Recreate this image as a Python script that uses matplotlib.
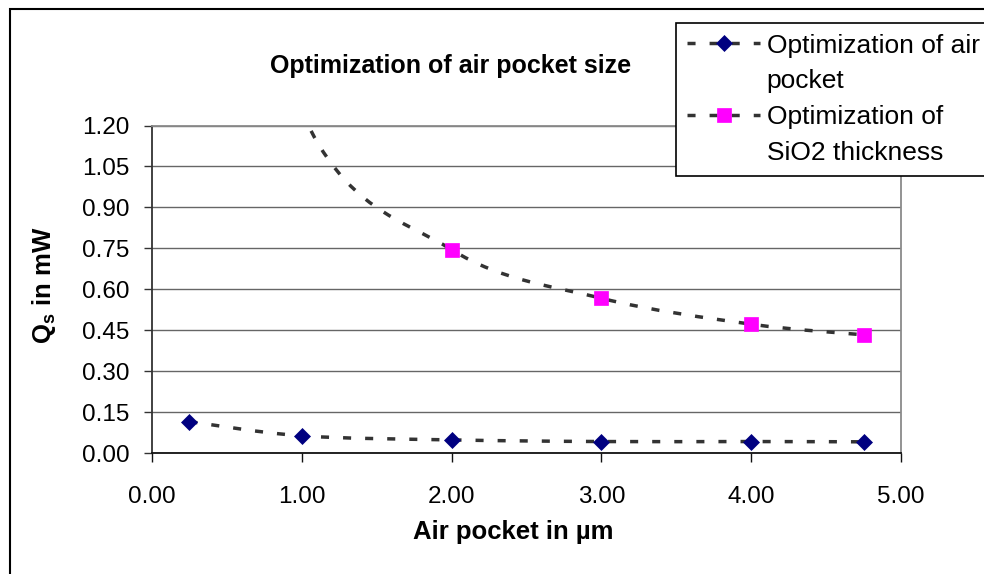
import matplotlib
matplotlib.use('Agg')
import matplotlib.pyplot as plt
import numpy as np
from matplotlib.path import Path
from matplotlib.patches import PathPatch, Rectangle
from matplotlib.lines import Line2D
from matplotlib.ticker import FormatStrFormatter

plt.rcParams['font.family'] = ['Liberation Sans', 'DejaVu Sans']
plt.rcParams['mathtext.fontset'] = 'custom'
plt.rcParams['mathtext.rm'] = 'Liberation Sans'
plt.rcParams['mathtext.bf'] = 'Liberation Sans:bold'
plt.rcParams['mathtext.it'] = 'Liberation Sans:italic'
plt.rcParams['lines.scale_dashes'] = False

# ---------------- data ----------------
x_air_pocket = [0.25, 1.0, 2.0, 3.0, 4.0, 4.75]
qs_air_pocket = [0.115, 0.063, 0.048, 0.042, 0.042, 0.041]
qs_sio2 = [2.9, 1.25, 0.745, 0.567, 0.472, 0.433]   # first two points lie above the axis maximum
series_labels = ['Optimization of air\npocket', 'Optimization of\nSiO2 thickness']
x_ticks = [0.0, 1.0, 2.0, 3.0, 4.0, 5.0]
y_ticks = [0.0, 0.15, 0.30, 0.45, 0.60, 0.75, 0.90, 1.05, 1.20]
title = 'Optimization of air pocket size'
x_label = 'Air pocket in µm'
y_label = r'$\mathbf{Q}_{\mathbf{s}}$ in mW'

# ---------------- style ----------------
LINE_COLOR = '#333333'
LW = 2.5
DASH = (0, (5.8, 10.1))
NAVY = '#000080'
MAGENTA = '#FF00FF'


def smooth_path(xs, ys):
    """Excel-style smoothed line: cubic Bezier segments through the points."""
    pts = np.column_stack([xs, ys]).astype(float)
    n = len(pts)
    verts = [pts[0]]
    codes = [Path.MOVETO]
    for i in range(n - 1):
        p0 = pts[max(i - 1, 0)]
        p1 = pts[i]
        p2 = pts[i + 1]
        p3 = pts[min(i + 2, n - 1)]
        c1 = p1 + (p2 - p0) / 6.0
        c2 = p2 - (p3 - p1) / 6.0
        verts += [c1, c2, p2]
        codes += [Path.CURVE4] * 3
    return Path(verts, codes)


fig = plt.figure(figsize=(9.84, 5.74), dpi=100)
ax = fig.add_axes([152 / 984, 1 - 453 / 574, (901 - 152) / 984, (453 - 125.5) / 574])

for ys in (qs_air_pocket, qs_sio2):
    patch = PathPatch(smooth_path(x_air_pocket, ys), fill=False, edgecolor=LINE_COLOR,
                      lw=LW, linestyle=DASH, capstyle='butt', zorder=3)
    ax.add_patch(patch)

ax.plot(x_air_pocket, qs_air_pocket, linestyle='none', marker='D', ms=8.0,
        mfc=NAVY, mec=NAVY, mew=0.5, zorder=4)
ax.plot(x_air_pocket, qs_sio2, linestyle='none', marker='s', ms=9.6,
        mfc=MAGENTA, mec=MAGENTA, mew=0.5, zorder=4)

ax.set_xlim(0, 5)
ax.set_ylim(0, 1.2)
ax.set_xticks(x_ticks)
ax.set_yticks(y_ticks)
ax.xaxis.set_major_formatter(FormatStrFormatter('%.2f'))
ax.yaxis.set_major_formatter(FormatStrFormatter('%.2f'))
ax.yaxis.grid(True, color='#666666', lw=1.0)
ax.set_axisbelow(True)

ax.spines['left'].set_color('#333333')
ax.spines['bottom'].set_color('#111111')
ax.spines['right'].set_color('#8a8a8a')
ax.spines['top'].set_color('#8a8a8a')
for s in ax.spines.values():
    s.set_linewidth(1.3)

ax.tick_params(axis='y', direction='out', length=6, width=1, color='#333333',
               labelsize=17.5, pad=10)
ax.tick_params(axis='x', direction='out', length=6.5, width=1, color='#111111',
               labelsize=17.5, pad=17)

fig.text(451 / 984, 1 - 73 / 574, title, ha='center', va='baseline',
         fontsize=18, fontweight='bold')
fig.text(513 / 984, 1 - 532 / 574, x_label, ha='center', va='center',
         fontsize=18.5, fontweight='bold')
fig.text(44 / 984, 1 - 285 / 574, y_label, ha='center', va='center',
         rotation=90, fontsize=18.5, fontweight='bold')

# outer chart border
fig.add_artist(Rectangle((9.5 / 984, -0.1), 1.2, (1 - 8.5 / 574) + 0.1,
                         transform=fig.transFigure, fill=False,
                         edgecolor='black', lw=1.5))

# legend (two text lines per entry, key aligned with first line)
h1 = Line2D([], [], color=LINE_COLOR, lw=LW, linestyle=DASH, marker='D', ms=8.0,
            mfc=NAVY, mec=NAVY, mew=0.5)
h2 = Line2D([], [], color=LINE_COLOR, lw=LW, linestyle=DASH, marker='s', ms=9.6,
            mfc=MAGENTA, mec=MAGENTA, mew=0.5)
blank = Line2D([], [], linestyle='none')
l1a, l1b = series_labels[0].split('\n')
l2a, l2b = series_labels[1].split('\n')
leg = fig.legend([h1, blank, h2, blank], [l1a, l1b, l2a, l2b],
                 loc='upper left', bbox_to_anchor=(676 / 984, 1 - 23 / 574),
                 bbox_transform=fig.transFigure, frameon=True, fancybox=False,
                 edgecolor='black', framealpha=1, fontsize=19, handlelength=2.8,
                 handletextpad=0.24, borderpad=0.4, labelspacing=0.45,
                 borderaxespad=0, numpoints=1)
leg.get_frame().set_linewidth(1.2)

fig.savefig('out.png', dpi=100)
